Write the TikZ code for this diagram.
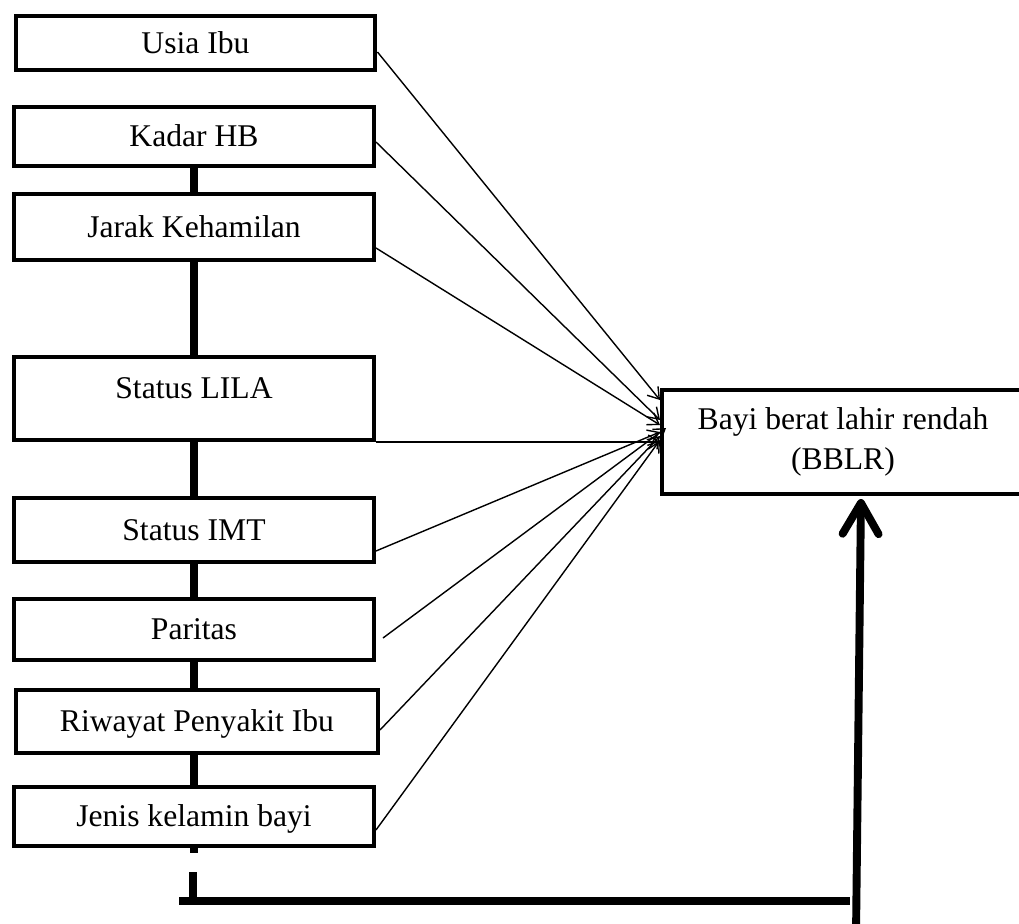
\documentclass[tikz,border=0pt]{standalone}
\usepackage{fontspec}
\setmainfont{Liberation Serif}
\usepackage{tikz}
\usetikzlibrary{arrows.meta}
\usetikzlibrary{calc}
\tikzstyle{faktor}=[
        rectangle,
        draw,
        line width=2.3pt,
        fill=white,
        inner sep=0pt,
        minimum width=7.2cm,
        text height=0.45cm,
        text depth=0.05cm,
        font=\fontsize{18}{23}\selectfont
]
\tikzstyle{hasil}=[rectangle,draw,line width=2.3pt,fill=white,inner sep=0pt,
minimum width=7.24cm,minimum height=2.08cm,align=center,font=\fontsize{18}{23}\selectfont]
\tikzstyle{panah}=[-{Straight Barb[length=6pt,width=8pt]},line width=0.8pt]
\tikzstyle{garis}=[line width=4.5pt]
\tikzstyle{panahtebal}=[-{Straight Barb[length=0.62cm,width=0.72cm,round]},line width=4.5pt]

\begin{document}
\begin{tikzpicture}[x=0.02cm,y=-0.02cm]
\useasboundingbox (0,0) rectangle (1019,924);
\clip (0,0) rectangle (1019,924);
\node[faktor,minimum height=1.08cm] (usia) at (195.5,43) {Usia Ibu};
\node[faktor,minimum height=1.18cm] (kadar) at (194,136.5) {Kadar HB};
\node[faktor,minimum height=1.32cm] (jarak) at (194,227) {Jarak Kehamilan};
\node[faktor,minimum height=1.66cm,text depth=0.45cm] (lila) at (194,398.5) {Status LILA};
\node[faktor,minimum height=1.28cm] (imt) at (194,530) {Status IMT};
\node[faktor,minimum height=1.22cm] (paritas) at (194,629.5) {Paritas};
\node[faktor,minimum height=1.26cm,minimum width=7.24cm] (riwayat) at (197,721.5) {Riwayat Penyakit Ibu};
\node[faktor,minimum height=1.18cm] (jenis) at (194,816.5) {Jenis kelamin bayi};
\node[hasil] (bayi) at (843,442) {Bayi berat lahir rendah\\(BBLR)};
\coordinate (stubatas) at (193,872);
\coordinate (kiri) at (179,901);
\coordinate (kanan) at (850,901);
\coordinate (kaki) at (856,935);
%garis tebal
\draw[garis] (kadar.south) -- (jarak.north);
\draw[garis] (jarak.south) -- (lila.north);
\draw[garis] (lila.south) -- (imt.north);
\draw[garis] (imt.south) -- (paritas.north);
\draw[garis] (paritas.south) -- (paritas.south |- riwayat.north);
\draw[garis] (riwayat.south -| jenis.south) -- (jenis.north);
\draw[garis] (jenis.south) -- ([yshift=-0.1cm]jenis.south);
\draw[garis] (stubatas) -- (stubatas |- kiri);
\draw[garis] (kiri) -- (kanan);
\draw[panahtebal] (kaki) -- ([xshift=0.36cm,yshift=-0.06cm]bayi.south);
%panah tipis
\draw[panah] ([yshift=-0.18cm]usia.east) -- ([yshift=0.84cm]bayi.west);
\draw[panah] ([yshift=-0.11cm]kadar.east) -- ([yshift=0.44cm]bayi.west);
\draw[panah] ([yshift=-0.42cm]jarak.east) -- ([yshift=0.34cm]bayi.west);
\draw[panah] (lila.south east) -- (lila.south east -| bayi.west);
\draw[panah] ([yshift=-0.42cm]imt.east) -- ([yshift=0.2cm]bayi.west);
\draw[panah] ([xshift=0.14cm,yshift=-0.17cm]paritas.east) -- ([xshift=0.12cm,yshift=0.28cm]bayi.west);
\draw[panah] ([yshift=-0.17cm]riwayat.east) -- ([yshift=0.12cm]bayi.west);
\draw[panah] ([yshift=-0.27cm]jenis.east) -- ([yshift=0.04cm]bayi.west);
\end{tikzpicture}
\end{document}
